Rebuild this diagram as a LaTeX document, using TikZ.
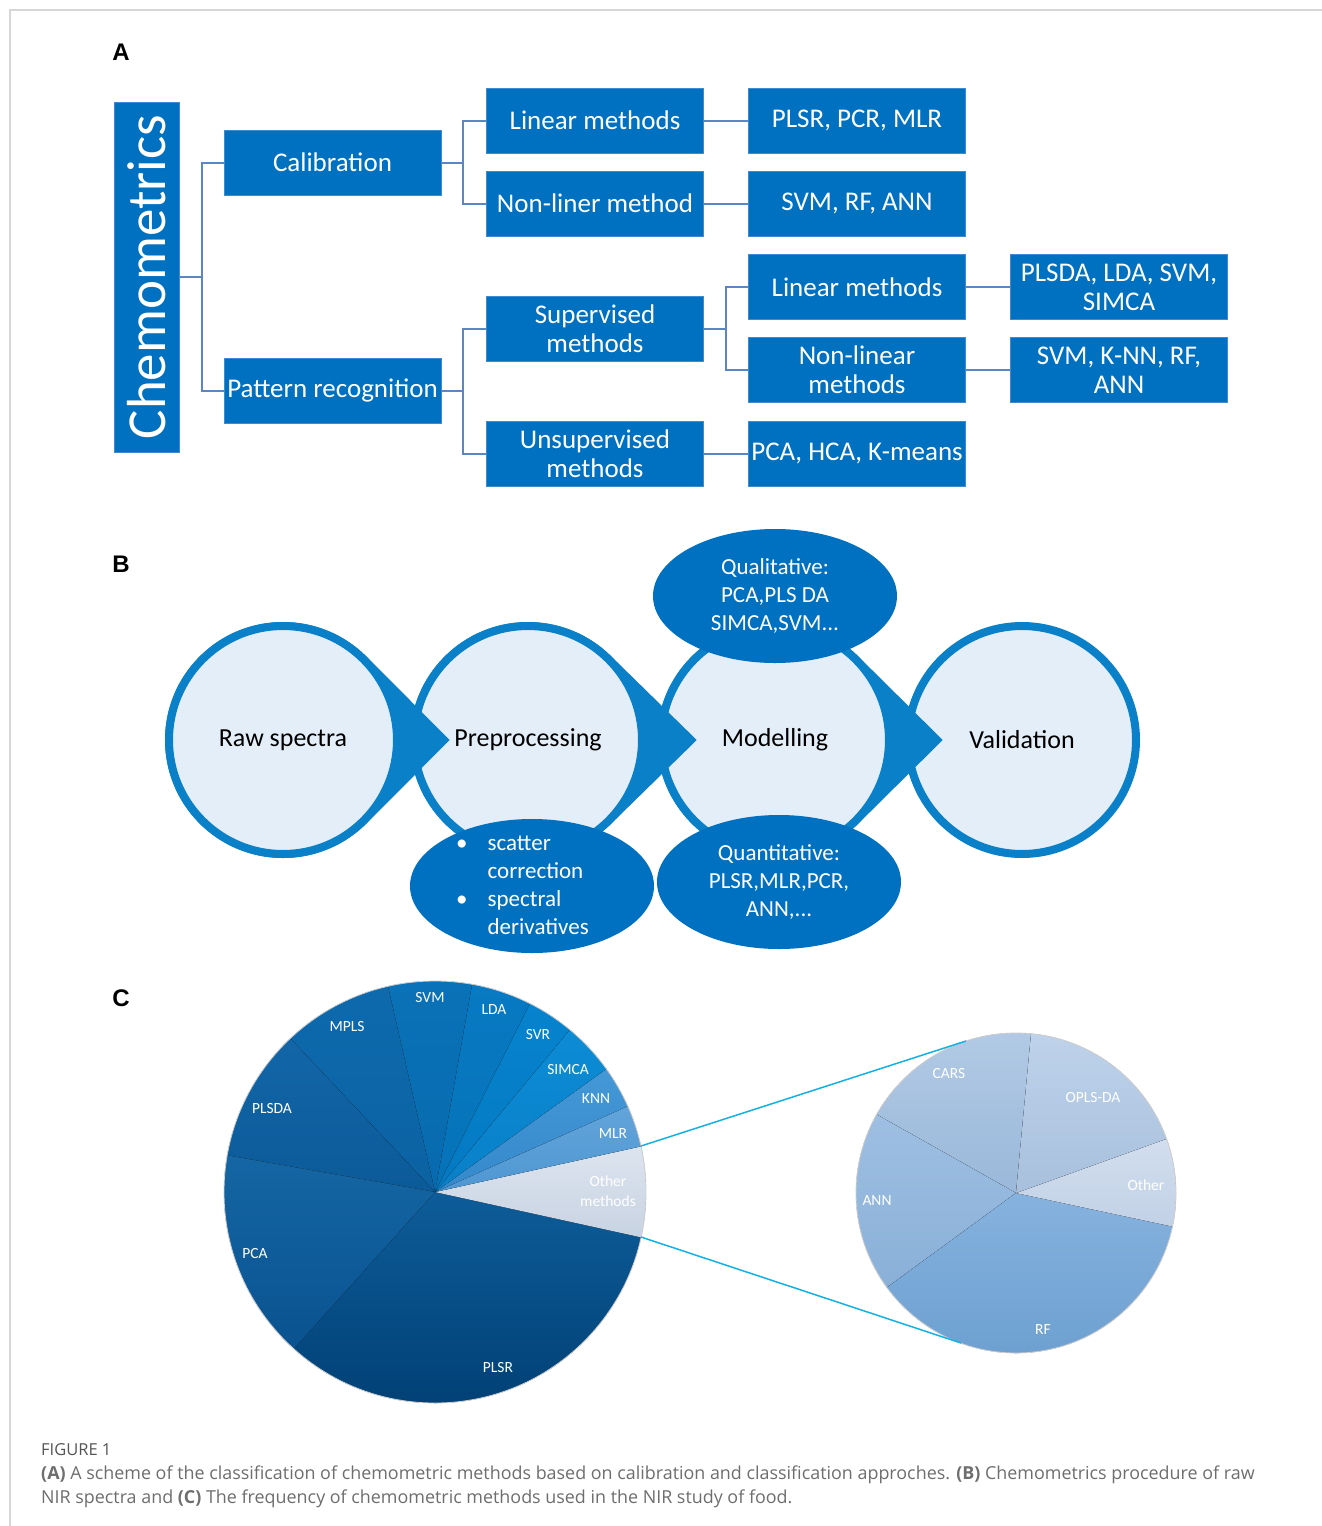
\documentclass[tikz,border=0pt]{standalone}
\usepackage{fontspec}
\setmainfont{Carlito}
\newfontfamily\capfont{Open Sans}
\newfontfamily\lblfont{Liberation Sans}
\usetikzlibrary{shapes.geometric}
\definecolor{boxblue}{HTML}{0070C0}
\definecolor{boxedge}{HTML}{3F8AD0}
\definecolor{linkblue}{HTML}{5A86C4}
\definecolor{ringblue}{HTML}{0A80C8}
\definecolor{ringfill}{HTML}{E3EEF9}
\definecolor{cyanline}{HTML}{12B2E4}
\definecolor{capgray}{HTML}{6E6E6E}
\definecolor{figgray}{HTML}{555555}
\definecolor{framegray}{HTML}{D6D6D6}
\newcommand\mytip[3]{%
  \pgfmathsetmacro\tipang{acos(114/#3)}%
  \filldraw[ringblue, line width=8pt, line join=miter]
    ([shift={(#3,0)}]#1,#2) -- ([shift={(\tipang:114)}]#1,#2)
    arc[start angle=\tipang, end angle=360-\tipang, radius=114] -- cycle;}
\newcommand\myslice[7]{%
  \definecolor{sltop}{HTML}{#6}\definecolor{slbot}{HTML}{#7}%
  \fill[top color=sltop, bottom color=slbot] (#1,#2) -- ++(#4:#3)
    arc[start angle=#4, end angle=#5, radius=#3] -- cycle;}
\tikzset{
  tbox/.style={rectangle, fill=boxblue, draw=boxedge, line width=0.8pt,
    minimum width=217pt, minimum height=65pt, inner sep=0pt, text=white,
    align=center, font=\fontsize{27}{29}\selectfont},
  link/.style={draw=linkblue, line width=2pt},
  ring/.style={circle, fill=ringfill, draw=ringblue, line width=8pt,
    minimum size=228pt, inner sep=0pt, text=black, font=\fontsize{26}{30}\selectfont},
  ell/.style={ellipse, fill=boxblue, minimum width=244pt, minimum height=134pt,
    inner sep=0pt, text=white, align=center, font=\fontsize{23}{28}\selectfont},
  plbl/.style={text=white, font=\fontsize{15.5}{20}\selectfont, inner sep=0pt, align=center},
  panel/.style={font=\lblfont\bfseries\fontsize{24}{24}\selectfont, inner sep=0pt},
  zoomline/.style={draw=cyanline, line width=1.5pt},
}
\begin{document}
\begin{tikzpicture}[x=1pt,y=1pt]
\fill[white] (0,0) rectangle (1322,-1526);
\useasboundingbox (0,0) rectangle (1322,-1526);
\draw[framegray, line width=2pt] (1322,-10) -- (10,-10) -- (10,-1526);

% ---------------- Panel A ----------------
\node[panel] (lA) at (121,-52) {A};
\node[rectangle, fill=boxblue, draw=boxedge, line width=0.8pt, rotate=90,
  minimum width=350pt, minimum height=65pt, inner sep=0pt, text=white,
  font=\fontsize{55}{55}\selectfont] (chem) at (146.5,-277) {Chemometrics};
\node[tbox] (cal) at (332.5,-162.5) {Calibration};
\node[tbox] (pat) at (332.5,-390.5) {Pattern recognition};
\node[tbox] (lin1) at (595,-120.5) {Linear methods};
\node[tbox] (non1) at (595,-203.5) {Non-liner method};
\node[tbox] (sup) at (595,-329) {Supervised\\methods};
\node[tbox] (uns) at (595,-453.5) {Unsupervised\\methods};
\node[tbox] (plsr) at (857,-120.5) {PLSR, PCR, MLR};
\node[tbox] (svm1) at (857,-203.5) {SVM, RF, ANN};
\node[tbox] (lin2) at (857,-287) {Linear methods};
\node[tbox] (non2) at (857,-370) {Non-linear\\methods};
\node[tbox] (pca) at (857,-453.5) {PCA, HCA, K-means};
\node[tbox] (plsda) at (1119,-287) {PLSDA, LDA, SVM,\\SIMCA};
\node[tbox] (svmk) at (1119,-370) {SVM, K-NN, RF,\\ANN};

\draw[link] (chem.south) -- ++(23,0) coordinate (j1);
\draw[link] (j1) |- (cal.west);
\draw[link] (j1) |- (pat.west);
\draw[link] (cal.east) -- ++(22,0) coordinate (j2);
\draw[link] (j2) |- (lin1.west);
\draw[link] (j2) |- (non1.west);
\draw[link] (pat.east) -- ++(22,0) coordinate (j3);
\draw[link] (j3) |- (sup.west);
\draw[link] (j3) |- (uns.west);
\draw[link] (lin1) -- (plsr);
\draw[link] (non1) -- (svm1);
\draw[link] (sup.east) -- ++(22,0) coordinate (j4);
\draw[link] (j4) |- (lin2.west);
\draw[link] (j4) |- (non2.west);
\draw[link] (uns) -- (pca);
\draw[link] (lin2) -- (plsda);
\draw[link] (non2) -- (svmk);

% ---------------- Panel B ----------------
\node[panel] (lB) at (121,-564) {B};
\node[ring] (val) at (1022,-740) {Validation};
\mytip{775}{-740}{162}
\node[ring] (mod) at (775,-740) {Modelling};
\mytip{528}{-740}{163}
\node[ring] (pre) at (528,-740) {Preprocessing};
\mytip{283}{-740}{161}
\node[ring] (raw) at (283,-740) {Raw spectra};
\node[ell] (qual) at (775,-596) {Qualitative:\\PCA,PLS DA\\SIMCA,SVM...};
\node[ell] (quant) at (779,-882) {Quantitative:\\PLSR,MLR,PCR,\\ANN,...};
\node[ell] (scat) at (532,-886) {};
\node[anchor=west, inner sep=0pt, text=white, font=\fontsize{23}{28}\selectfont] (scattxt) at (456,-887)
  {\begin{tabular}{@{}l@{\hspace{20pt}}l@{}}\textbullet & scatter\\ & correction\\ \textbullet & spectral\\ & derivatives\end{tabular}};

% ---------------- Panel C ----------------
\node[panel] (lC) at (121,-998) {C};
% big pie, centre (435,-1192), r 211
\myslice{435}{-1192}{211}{228}{347.6}{0D5C99}{003E72}
\myslice{435}{-1192}{211}{-12.4}{12.5}{DCE4EF}{C8D3E2}
\myslice{435}{-1192}{211}{12.5}{24}{62A4DA}{4F97D2}
\myslice{435}{-1192}{211}{24}{35.7}{4598D6}{3489CC}
\myslice{435}{-1192}{211}{35.7}{50.3}{0C8CD5}{0880C8}
\myslice{435}{-1192}{211}{50.3}{63.3}{0683CE}{0579C2}
\myslice{435}{-1192}{211}{63.3}{79.9}{077AC3}{0672B8}
\myslice{435}{-1192}{211}{79.9}{102.9}{0A72B8}{086AAE}
\myslice{435}{-1192}{211}{102.9}{133.3}{0E6AAD}{0B62A3}
\myslice{435}{-1192}{211}{133.3}{170}{1266A8}{0C5A98}
\myslice{435}{-1192}{211}{170}{228}{1566A4}{0A5290}
\draw[black!18, line width=0.8pt] (435,-1192) circle[radius=211];
% small pie, centre (1016,-1193), r 160
\myslice{1016}{-1193}{160}{84.6}{150.6}{B2CAE5}{9AB8DA}
\myslice{1016}{-1193}{160}{150.6}{216.2}{9EBFE2}{8AB0D8}
\myslice{1016}{-1193}{160}{216.2}{347.9}{86B2DE}{6A9ECF}
\myslice{1016}{-1193}{160}{-12.1}{19.8}{D2DEEE}{C2D1E6}
\myslice{1016}{-1193}{160}{19.8}{84.6}{BED2EA}{A8C0DD}
\draw[black!18, line width=0.8pt] (1016,-1193) circle[radius=160];

\coordinate (bz1) at (641,-1146);
\coordinate (bz2) at (641,-1237);
\coordinate (sz1) at (966,-1041);
\coordinate (sz2) at (961,-1343);
\draw[zoomline] (bz1) -- (sz1);
\draw[zoomline] (bz2) -- (sz2);

\node[plbl] (tsvm) at (430,-998) {SVM};
\node[plbl] (tlda) at (494,-1010) {LDA};
\node[plbl] (tsvr) at (538,-1035) {SVR};
\node[plbl] (tsim) at (568,-1070) {SIMCA};
\node[plbl] (tknn) at (596,-1099) {KNN};
\node[plbl] (tmlr) at (613,-1134) {MLR};
\node[plbl] (toth) at (608,-1191) {Other\\methods};
\node[plbl] (tpls) at (272,-1109) {PLSDA};
\node[plbl] (tmpl) at (347,-1027) {MPLS};
\node[plbl] (tpca) at (255,-1254) {PCA};
\node[plbl] (tplsr) at (498,-1368) {PLSR};
\node[plbl] (tcars) at (949,-1074) {CARS};
\node[plbl] (topls) at (1093,-1098) {OPLS-DA};
\node[plbl] (toth2) at (1146,-1185) {Other};
\node[plbl] (tann) at (877,-1201) {ANN};
\node[plbl] (trf) at (1043,-1330) {RF};

% ---------------- Caption ----------------
\node[anchor=base west, inner sep=0pt, text=figgray, font=\capfont\fontsize{16.5}{20}\selectfont] (fig) at (41,-1455) {FIGURE 1};
\node[anchor=base west, inner sep=0pt, text=capgray, font=\capfont\fontsize{17.9}{20}\selectfont] (cap1) at (41,-1479)
  {\textbf{(A)} A scheme of the classification of chemometric methods based on calibration and classification approches. \textbf{(B)} Chemometrics procedure of raw};
\node[anchor=base west, inner sep=0pt, text=capgray, font=\capfont\fontsize{17.9}{20}\selectfont] (cap2) at (41,-1503)
  {NIR spectra and \textbf{(C)} The frequency of chemometric methods used in the NIR study of food.};
\end{tikzpicture}
\end{document}
